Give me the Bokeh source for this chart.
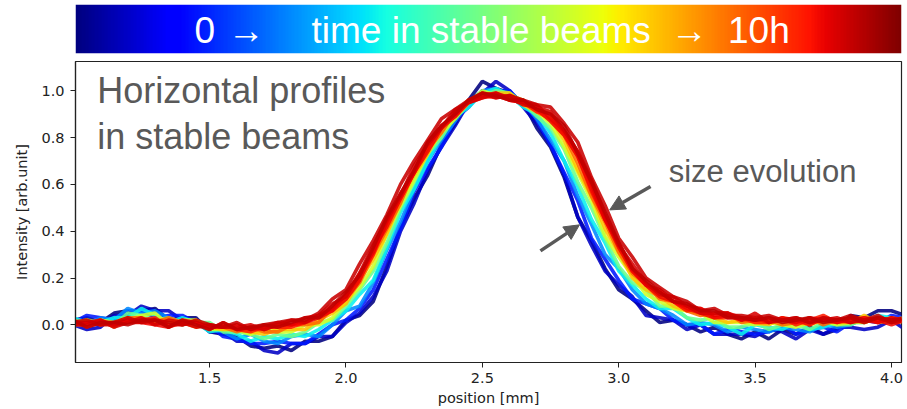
import numpy as np
from bokeh.plotting import figure
from bokeh.layouts import column
from bokeh.models import (ColumnDataSource, FixedTicker, PrintfTickFormatter, Label,
                          Arrow, NormalHead, LinearColorMapper, Range1d)
from bokeh.transform import linear_cmap
from bokeh.embed import file_html
from bokeh.resources import INLINE

# ---------------- data ----------------
position_mm = [1.00, 1.05, 1.10, 1.15, 1.20, 1.25, 1.30, 1.35, 1.40, 1.45,
               1.50, 1.55, 1.60, 1.65, 1.70, 1.75, 1.80, 1.85, 1.90, 1.95,
               2.00, 2.05, 2.10, 2.15, 2.20, 2.25, 2.30, 2.35, 2.40, 2.45,
               2.50, 2.55, 2.60, 2.65, 2.70, 2.75, 2.80, 2.85, 2.90, 2.95,
               3.00, 3.05, 3.10, 3.15, 3.20, 3.25, 3.30, 3.35, 3.40, 3.45,
               3.50, 3.55, 3.60, 3.65, 3.70, 3.75, 3.80, 3.85, 3.90, 3.95,
               4.00, 4.05]

hours_in_stable_beams = [0.0, 0.6, 1.5, 2.6, 3.6, 4.8, 6.0, 7.0, 8.0, 8.8,
                         9.0, 9.1, 9.25, 9.35, 9.45]

profile_a = [0.02, 0.03, 0.01, 0.05, 0.06, 0.06, 0.07, 0.02, 0.03, 0.03,
             -0.03, -0.04, -0.05, -0.09, -0.10, -0.09, -0.11, -0.07, -0.07, -0.05,
             0.02, 0.04, 0.10, 0.25, 0.42, 0.54, 0.64, 0.77, 0.86, 0.96,
             1.04, 1.01, 0.99, 0.95, 0.84, 0.76, 0.63, 0.46, 0.36, 0.24,
             0.15, 0.11, 0.06, 0.01, 0.02, 0.00, -0.03, -0.01, -0.04, -0.06,
             -0.03, -0.06, -0.02, -0.04, -0.01, -0.04, -0.02, 0.04, 0.03, 0.06,
             0.06, 0.04]
profile_b = [0.00, -0.02, -0.01, 0.04, 0.04, 0.08, 0.06, 0.06, 0.02, 0.02,
             -0.03, -0.03, -0.07, -0.07, -0.11, -0.12, -0.08, -0.08, -0.05, -0.05,
             0.01, 0.05, 0.12, 0.23, 0.40, 0.52, 0.66, 0.76, 0.85, 0.95,
             0.99, 1.04, 1.00, 0.93, 0.86, 0.77, 0.64, 0.46, 0.34, 0.23,
             0.17, 0.12, 0.04, 0.03, 0.02, -0.02, 0.00, -0.04, -0.04, -0.04,
             -0.05, -0.02, -0.03, -0.06, -0.02, -0.04, -0.01, -0.01, -0.02, -0.01,
             0.02, -0.02]
profile_c = [0.01, 0.04, 0.03, 0.02, 0.06, 0.06, 0.03, 0.04, 0.04, 0.01,
             0.00, -0.05, -0.06, -0.08, -0.08, -0.07, -0.08, -0.08, -0.04, 0.00,
             0.02, 0.07, 0.15, 0.28, 0.41, 0.57, 0.67, 0.76, 0.88, 0.93,
             1.00, 1.00, 1.00, 0.94, 0.88, 0.77, 0.65, 0.53, 0.37, 0.28,
             0.19, 0.11, 0.09, 0.07, 0.02, 0.00, 0.00, -0.04, -0.02, -0.03,
             -0.04, -0.03, 0.00, -0.04, -0.02, -0.01, -0.03, 0.01, 0.02, 0.01,
             0.04, 0.03]
profile_d = [0.02, 0.00, 0.03, 0.02, 0.07, 0.05, 0.06, 0.03, 0.00, 0.02,
             -0.02, -0.03, -0.06, -0.04, -0.07, -0.08, -0.05, -0.04, -0.05, 0.00,
             0.06, 0.08, 0.18, 0.32, 0.44, 0.58, 0.70, 0.79, 0.87, 0.95,
             1.00, 1.01, 0.97, 0.95, 0.88, 0.79, 0.70, 0.55, 0.43, 0.30,
             0.24, 0.15, 0.09, 0.07, 0.04, 0.00, 0.01, 0.00, -0.03, -0.01,
             -0.02, -0.03, -0.01, -0.02, -0.03, 0.00, -0.01, 0.00, 0.03, 0.02,
             0.01, 0.03]
profile_e = [0.03, 0.01, 0.01, 0.03, 0.03, 0.07, 0.04, 0.01, 0.03, 0.01,
             -0.03, -0.02, -0.04, -0.07, -0.05, -0.06, -0.04, -0.05, -0.02, 0.02,
             0.06, 0.13, 0.19, 0.33, 0.48, 0.58, 0.70, 0.81, 0.89, 0.93,
             0.99, 1.01, 0.98, 0.93, 0.90, 0.82, 0.70, 0.59, 0.45, 0.35,
             0.23, 0.17, 0.11, 0.07, 0.07, 0.03, 0.00, 0.01, -0.01, -0.04,
             0.00, -0.01, -0.02, 0.01, -0.02, -0.01, 0.01, 0.01, 0.01, 0.04,
             0.03, 0.01]
profile_f = [0.00, 0.02, 0.01, 0.00, 0.05, 0.04, 0.02, 0.03, 0.01, 0.01,
             0.01, -0.03, -0.03, -0.04, -0.06, -0.04, -0.05, -0.03, 0.01, 0.02,
             0.08, 0.15, 0.23, 0.35, 0.50, 0.61, 0.73, 0.80, 0.89, 0.95,
             0.98, 1.00, 0.99, 0.95, 0.89, 0.84, 0.75, 0.61, 0.50, 0.37,
             0.25, 0.18, 0.15, 0.08, 0.08, 0.03, 0.02, 0.03, -0.01, -0.01,
             0.01, -0.02, 0.00, 0.00, -0.02, 0.01, 0.00, 0.00, 0.03, 0.02,
             0.03, 0.01]
profile_g = [0.02, 0.00, 0.02, 0.01, 0.02, 0.04, 0.05, 0.00, 0.02, 0.02,
             -0.02, -0.02, -0.02, -0.04, -0.02, -0.03, -0.03, 0.00, 0.00, 0.03,
             0.10, 0.16, 0.25, 0.39, 0.51, 0.62, 0.74, 0.82, 0.88, 0.95,
             1.00, 0.98, 0.98, 0.96, 0.91, 0.86, 0.76, 0.65, 0.53, 0.38,
             0.29, 0.21, 0.13, 0.10, 0.07, 0.06, 0.05, 0.01, 0.01, 0.01,
             0.00, 0.01, 0.00, -0.01, 0.01, 0.02, 0.00, 0.01, 0.01, 0.03,
             0.02, 0.03]
profile_h = [0.01, 0.02, 0.00, 0.01, 0.03, 0.02, 0.02, 0.02, 0.00, 0.02,
             -0.01, -0.02, -0.02, -0.03, -0.04, -0.02, -0.02, -0.02, 0.02, 0.05,
             0.09, 0.19, 0.28, 0.39, 0.53, 0.64, 0.73, 0.84, 0.90, 0.96,
             0.98, 0.99, 0.99, 0.94, 0.91, 0.88, 0.79, 0.66, 0.55, 0.41,
             0.31, 0.20, 0.15, 0.12, 0.08, 0.06, 0.05, 0.03, 0.01, 0.02,
             0.01, 0.00, 0.03, 0.01, 0.00, 0.02, 0.01, 0.01, 0.04, 0.01,
             0.02, 0.03]
profile_i = [0.00, 0.00, 0.02, -0.01, 0.03, 0.03, 0.01, 0.03, 0.01, -0.01,
             0.00, -0.01, -0.03, -0.01, -0.03, -0.03, 0.00, 0.00, 0.01, 0.07,
             0.11, 0.18, 0.30, 0.41, 0.52, 0.66, 0.75, 0.82, 0.91, 0.95,
             0.99, 0.98, 0.97, 0.96, 0.91, 0.88, 0.81, 0.69, 0.55, 0.44,
             0.31, 0.22, 0.17, 0.11, 0.10, 0.06, 0.04, 0.05, 0.05, 0.01,
             0.02, 0.02, 0.00, 0.01, 0.03, 0.00, 0.02, 0.02, 0.01, 0.03,
             0.02, 0.01]
profile_j = [0.02, -0.01, 0.01, 0.01, 0.02, 0.02, 0.03, -0.01, 0.01, 0.01,
             -0.02, 0.01, -0.02, -0.03, -0.01, -0.01, -0.01, 0.01, 0.04, 0.06,
             0.13, 0.20, 0.30, 0.44, 0.54, 0.65, 0.76, 0.85, 0.89, 0.96,
             0.98, 0.97, 0.98, 0.95, 0.91, 0.90, 0.82, 0.72, 0.57, 0.45,
             0.34, 0.23, 0.17, 0.14, 0.10, 0.06, 0.07, 0.03, 0.03, 0.03,
             0.01, 0.01, 0.03, 0.00, 0.02, 0.04, 0.01, 0.02, 0.03, 0.01,
             0.03, 0.02]
profile_k = [0.00, 0.01, 0.02, 0.00, 0.01, 0.01, 0.00, -0.01, 0.02, 0.01,
             -0.01, 0.00, -0.02, -0.01, -0.02, 0.00, 0.00, 0.01, 0.03, 0.06,
             0.11, 0.19, 0.32, 0.42, 0.54, 0.65, 0.74, 0.84, 0.89, 0.95,
             0.97, 0.98, 0.96, 0.95, 0.92, 0.87, 0.81, 0.72, 0.58, 0.45,
             0.33, 0.23, 0.17, 0.12, 0.10, 0.07, 0.05, 0.03, 0.04, 0.02,
             0.03, 0.01, 0.03, 0.02, 0.00, 0.03, 0.02, 0.01, 0.03, 0.02,
             0.00, 0.02]
profile_l = [0.01, 0.01, 0.00, 0.00, 0.02, 0.01, 0.02, 0.00, 0.00, 0.01,
             -0.01, -0.01, 0.00, -0.02, -0.01, 0.01, 0.00, 0.03, 0.04, 0.07,
             0.13, 0.22, 0.31, 0.44, 0.56, 0.65, 0.78, 0.85, 0.90, 0.96,
             0.98, 0.99, 0.96, 0.95, 0.94, 0.88, 0.83, 0.74, 0.60, 0.45,
             0.35, 0.24, 0.17, 0.15, 0.10, 0.08, 0.07, 0.04, 0.05, 0.03,
             0.02, 0.03, 0.02, 0.01, 0.03, 0.02, 0.01, 0.03, 0.02, 0.01,
             0.03, 0.01]
profile_m = [0.00, 0.00, 0.02, -0.01, 0.01, 0.03, 0.00, 0.02, 0.01, -0.01,
             0.00, -0.01, -0.01, 0.00, -0.02, 0.00, 0.02, 0.01, 0.04, 0.09,
             0.12, 0.22, 0.34, 0.45, 0.55, 0.68, 0.77, 0.84, 0.92, 0.95,
             0.97, 0.99, 0.97, 0.94, 0.93, 0.91, 0.83, 0.74, 0.62, 0.47,
             0.34, 0.26, 0.18, 0.13, 0.12, 0.08, 0.05, 0.05, 0.05, 0.02,
             0.05, 0.01, 0.02, 0.03, 0.01, 0.02, 0.03, 0.01, 0.02, 0.04,
             0.01, 0.02]
profile_n = [0.01, 0.02, 0.00, 0.01, 0.03, 0.01, 0.02, 0.01, 0.00, 0.02,
             0.00, -0.01, 0.01, -0.02, 0.00, 0.01, 0.02, 0.02, 0.05, 0.11,
             0.15, 0.26, 0.36, 0.47, 0.60, 0.70, 0.79, 0.88, 0.92, 0.96,
             0.99, 0.97, 0.98, 0.96, 0.94, 0.93, 0.86, 0.78, 0.63, 0.51,
             0.37, 0.29, 0.20, 0.16, 0.12, 0.10, 0.06, 0.07, 0.04, 0.04,
             0.03, 0.04, 0.02, 0.03, 0.01, 0.03, 0.02, 0.04, 0.02, 0.03,
             0.01, 0.03]
profile_o = [0.02, -0.01, 0.01, 0.01, 0.00, 0.02, 0.02, -0.01, 0.02, 0.00,
             -0.02, 0.01, -0.02, -0.01, 0.00, -0.01, 0.01, 0.03, 0.03, 0.08,
             0.14, 0.21, 0.33, 0.46, 0.56, 0.66, 0.78, 0.85, 0.90, 0.96,
             0.99, 0.98, 0.96, 0.96, 0.92, 0.90, 0.85, 0.73, 0.61, 0.48,
             0.35, 0.24, 0.19, 0.14, 0.10, 0.09, 0.06, 0.06, 0.03, 0.03,
             0.02, 0.03, 0.01, 0.02, 0.03, 0.01, 0.02, 0.03, 0.01, 0.03,
             0.02, 0.03]

profiles = [profile_a, profile_b, profile_c, profile_d, profile_e,
            profile_f, profile_g, profile_h, profile_i, profile_j,
            profile_k, profile_l, profile_m, profile_n, profile_o]

x_ticks = [1.5, 2.0, 2.5, 3.0, 3.5, 4.0]
y_ticks = [0.0, 0.2, 0.4, 0.6, 0.8, 1.0]


# ---------------- jet colormap (style) ----------------
def jet_palette(n=256):
    s = np.linspace(0, 1, n)
    r = np.interp(s, [0, 0.35, 0.66, 0.89, 1], [0, 0, 1, 1, 0.5])
    g = np.interp(s, [0, 0.125, 0.375, 0.64, 0.91, 1], [0, 0, 1, 1, 0, 0])
    b = np.interp(s, [0, 0.11, 0.34, 0.65, 1], [0.5, 1, 1, 0, 0])
    return ["#%02x%02x%02x" % (int(round(255 * a)), int(round(255 * c)), int(round(255 * d)))
            for a, c, d in zip(r, g, b)]


JET = jet_palette()
GRAY = "#595959"
AXC = "#222222"

# ---------------- colour strip on top ----------------
cb = figure(width=907, height=55, x_range=Range1d(0, 1), y_range=Range1d(0, 1),
            output_backend="svg", toolbar_location=None,
            x_axis_location=None, y_axis_location=None,
            min_border_left=72, min_border_right=2, min_border_top=4, min_border_bottom=2)
cb.grid.visible = False
cb.outline_line_color = None
strip_mapper = LinearColorMapper(palette=JET, low=0, high=10)
strip = np.linspace(0, 10, 256).reshape(1, 256)
cb.image(image=[strip], x=0, y=0, dw=1, dh=1, color_mapper=strip_mapper)

for txt, xpos in [("0", 0.144), ("\u2192", 0.184), ("time in stable beams", 0.2857),
                  ("\u2192", 0.7203), ("10h", 0.790)]:
    cb.add_layout(Label(x=xpos, y=0.47, text=txt, text_color="white",
                        text_font="Liberation Sans", text_font_size="37px",
                        text_baseline="alphabetic"))

# ---------------- main plot ----------------
p = figure(width=907, height=354, x_range=Range1d(1.0084, 4.0367), y_range=Range1d(-0.161, 1.125),
           output_backend="svg", toolbar_location=None,
           min_border_left=75, min_border_right=6, min_border_top=6, min_border_bottom=47)
p.grid.visible = False
p.outline_line_color = AXC
p.outline_line_width = 1.2

src = ColumnDataSource(dict(xs=[position_mm] * len(profiles), ys=profiles,
                            t=hours_in_stable_beams))
p.multi_line('xs', 'ys', source=src,
             line_color=linear_cmap('t', JET, 0, 10),
             line_width=3.6, line_alpha=0.88)

p.xaxis.ticker = FixedTicker(ticks=x_ticks)
p.yaxis.ticker = FixedTicker(ticks=y_ticks)
p.xaxis.formatter = PrintfTickFormatter(format="%.1f")
p.yaxis.formatter = PrintfTickFormatter(format="%.1f")
p.xaxis.axis_label = "position [mm]"
p.yaxis.axis_label = "Intensity [arb.unit]"
for ax in (p.xaxis, p.yaxis):
    ax.axis_line_color = AXC
    ax.axis_line_width = 1.2
    ax.major_tick_line_color = AXC
    ax.major_tick_out = 5
    ax.major_tick_in = 0
    ax.minor_tick_line_color = None
    ax.major_label_text_font = "DejaVu Sans"
    ax.major_label_text_font_size = "14.5px"
    ax.major_label_text_color = AXC
    ax.axis_label_text_font = "DejaVu Sans"
    ax.axis_label_text_font_size = "14.5px"
    ax.axis_label_text_font_style = "normal"
    ax.axis_label_text_color = AXC
p.xaxis.major_label_standoff = 5
p.xaxis.axis_label_standoff = 4
p.yaxis.major_label_standoff = 6
p.yaxis.axis_label_standoff = 8

p.add_layout(Label(x=1.088, y=1.000, text="Horizontal profiles", text_color=GRAY,
                   text_font="Liberation Sans", text_font_size="36px", text_baseline="alphabetic"))
p.add_layout(Label(x=1.088, y=0.806, text="in stable beams", text_color=GRAY,
                   text_font="Liberation Sans", text_font_size="36px", text_baseline="alphabetic"))
p.add_layout(Label(x=3.183, y=0.653, text="size evolution", text_color=GRAY,
                   text_font="Liberation Sans", text_font_size="31px", text_baseline="alphabetic"))

for xs0, ys0, xe, ye in [(3.1167, 0.591, 2.967, 0.491), (2.713, 0.316, 2.856, 0.427)]:
    p.add_layout(Arrow(x_start=xs0, y_start=ys0, x_end=xe, y_end=ye,
                       line_color=GRAY, line_width=3.5,
                       end=NormalHead(size=15, fill_color=GRAY, line_color=GRAY)))

layout = column(cb, p, spacing=0)
open("out.html", "w").write(file_html(layout, INLINE))
